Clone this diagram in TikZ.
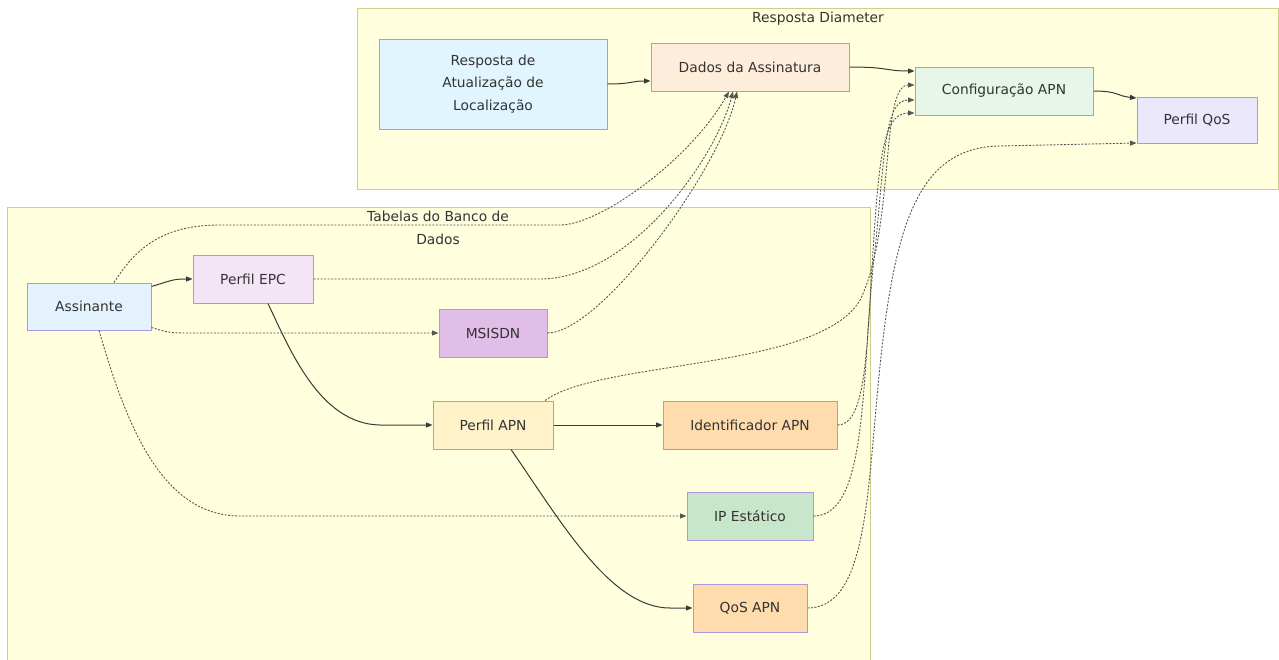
\documentclass[tikz,border=0pt]{standalone}
\usepackage{fontspec}
\setmainfont{DejaVu Sans}
\usepackage{xcolor}
\usetikzlibrary{arrows.meta}

\definecolor{clusterfill}{HTML}{FFFFDE}
\definecolor{clusterline}{HTML}{CFCF8A}
\definecolor{nodeline}{HTML}{AF97E0}
\definecolor{textgray}{HTML}{333333}
\definecolor{linegray}{HTML}{3A3A3A}
\definecolor{dotgray}{HTML}{555555}
\definecolor{raFill}{HTML}{E1F5FE}
\definecolor{daFill}{HTML}{FFEDDB}
\definecolor{caFill}{HTML}{E8F5E9}
\definecolor{pqFill}{HTML}{ECE8FC}
\definecolor{assFill}{HTML}{E3F2FD}
\definecolor{epcFill}{HTML}{F3E5F5}
\definecolor{msFill}{HTML}{E1BEE7}
\definecolor{papnFill}{HTML}{FFF2C8}
\definecolor{idFill}{HTML}{FFDCAE}
\definecolor{ipFill}{HTML}{C8E6C9}

\begin{document}
\begin{tikzpicture}[
    x=1pt, y=-1pt,
    >={Triangle[length=6.5pt,width=5pt]},
    font=\fontsize{13.8}{22.5}\selectfont,
    block/.style={
        draw=nodeline,
        rectangle,
        line width=1pt,
        inner sep=0pt,
        minimum height=48pt,
        text=textgray,
        align=center
    },
    cluster/.style={draw=clusterline, fill=clusterfill, line width=1pt},
    clustertitle/.style={text=textgray, align=center},
    link/.style={->, draw=linegray, line width=1pt},
    dots/.style={->, draw=dotgray, line width=0.9pt, dash pattern=on 2pt off 1.5pt}
]
\clip (0,0) rectangle (1279,659);

% Subgraphs
\draw[cluster] (357,8) rectangle (1278,189);
\draw[cluster] (7,207) rectangle (870,680);
\node[clustertitle] (titDiam) at (818,19) {Resposta Diameter};
\node[clustertitle] (titBanco) at (438,228) {Tabelas do Banco de\\Dados};

% Nodes
\node[block, fill=raFill, minimum width=228pt, minimum height=90pt] (resp) at (493,84)
    {Resposta de\\Atualização de\\Localização};
\node[block, fill=daFill, minimum width=198pt] (dados) at (750,67) {Dados da Assinatura};
\node[block, fill=caFill, minimum width=178pt] (config) at (1004,91) {Configuração APN};
\node[block, fill=pqFill, minimum width=120pt, minimum height=46pt] (qosperf) at (1197,120) {Perfil QoS};
\node[block, fill=assFill, minimum width=124pt, minimum height=47pt] (assin) at (89,306.5) {Assinante};
\node[block, fill=epcFill, minimum width=120pt] (epc) at (253,279) {Perfil EPC};
\node[block, fill=msFill, minimum width=108pt] (msisdn) at (493,333) {MSISDN};
\node[block, fill=papnFill, minimum width=120pt] (papn) at (493,425) {Perfil APN};
\node[block, fill=idFill, minimum width=174pt] (idapn) at (750,425) {Identificador APN};
\node[block, fill=ipFill, minimum width=126pt] (ipest) at (750,516) {IP Estático};
\node[block, fill=idFill, minimum width=114pt] (qosapn) at (750,608) {QoS APN};

% Arrows
\draw[link] (resp.east) .. controls +(25,0) and +(-20,0) .. ([yshift=-14pt]dados.west);
\draw[link] (dados.east) .. controls +(40,0) and +(-30,0) .. ([yshift=20pt]config.west);
\draw[link] (config.east) .. controls +(25,0) and +(-20,-2) .. ([yshift=22pt]qosperf.west);
\draw[link] ([yshift=20pt]assin.east) .. controls +(20,-6) and +(-20,0) .. (epc.west);
\draw[link] ([xshift=15pt]epc.south) .. controls (290,350) and (320,424) .. (380,425) -- (papn.west);
\draw[link] (papn) -- (idapn);
\draw[link] ([xshift=18pt]papn.south) .. controls (560,520) and (610,608) .. (670,608) -- (qosapn.west);

% Dotted links
\draw[dots] ([xshift=25pt]assin.north) .. controls (135,250) and (160,225) .. (220,225) -- (560,225)
    .. controls (600,225) and (690,160) .. ([xshift=-21pt]dados.south);
\draw[dots] (epc.east) -- (540,279) .. controls (630,279) and (715,160) .. ([xshift=-17pt]dados.south);
\draw[dots] (msisdn.east) .. controls (600,333) and (720,170) .. ([xshift=-13pt]dados.south);
\draw[dots] ([yshift=3pt]assin.south east) .. controls +(20,6) and +(-30,0) .. (200,333) -- (msisdn.west);
\draw[dots] ([xshift=10pt]assin.south) .. controls (125,420) and (160,516) .. (240,516) -- (ipest.west);
\draw[dots] ([xshift=52pt]papn.north) .. controls (600,360) and (820,370) .. (860,300)
    .. controls (895,230) and (880,85) .. ([yshift=6pt]config.west);
\draw[dots] (idapn.east) .. controls (870,425) and (865,330) .. (875,250)
    .. controls (885,150) and (885,100) .. ([yshift=-9pt]config.west);
\draw[dots] (ipest.east) .. controls (860,516) and (862,420) .. (870,300)
    .. controls (878,170) and (880,113) .. ([yshift=-22pt]config.west);
\draw[dots] (qosapn.east) .. controls (860,608) and (866,520) .. (875,420)
    .. controls (890,240) and (910,147) .. (1000,146) -- ([yshift=-23pt]qosperf.west);

\end{tikzpicture}
\end{document}
